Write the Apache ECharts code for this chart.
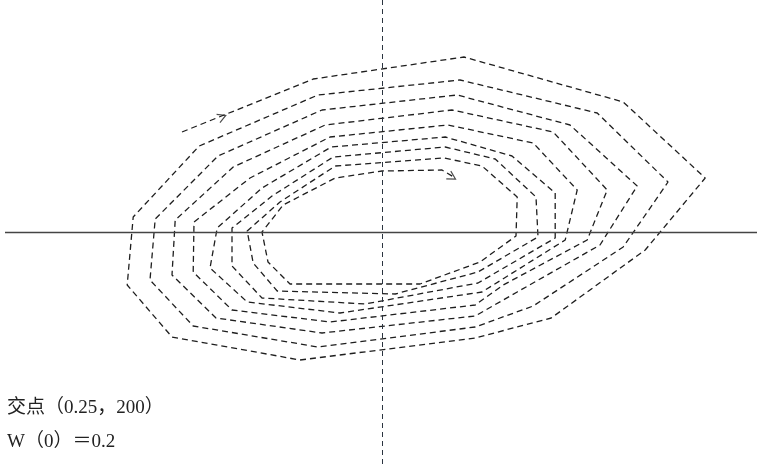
<!DOCTYPE html>
<html>
<head>
<meta charset="utf-8">
<script src="https://cdn.jsdelivr.net/npm/echarts@6/dist/echarts.min.js"></script>
<style>
  html, body { margin: 0; padding: 0; background: #fff; }
  #main { width: 757px; height: 464px; }
</style>
</head>
<body>
<div id="main"></div>
<script>
// 交点
const crossX = 0.25
const crossY = 200

// 轨迹（从 W(0)=0.2 开始，顺时针向内）
const spiralX = [
  0.2,
  0.2328, 0.2705, 0.3103, 0.3308, 0.3158, 0.2923, 0.2733, 0.2295, 0.1975, 0.1863, 0.1878, 0.2043,
  0.234, 0.2695, 0.3038, 0.3215, 0.3103, 0.2878, 0.2733, 0.234, 0.2028, 0.192, 0.1933, 0.209,
  0.235, 0.2688, 0.297, 0.3138, 0.3045, 0.2838, 0.2733, 0.235, 0.2085, 0.1975, 0.1983, 0.2128,
  0.2358, 0.2675, 0.2928, 0.3063, 0.3013, 0.2803, 0.2733, 0.237, 0.2125, 0.2028, 0.203, 0.217,
  0.237, 0.2665, 0.2878, 0.2988, 0.2958, 0.275, 0.2395, 0.2163, 0.207, 0.2088, 0.22,
  0.2373, 0.2658, 0.2825, 0.2933, 0.2933, 0.274, 0.2458, 0.22, 0.2125, 0.2125, 0.2225,
  0.2378, 0.2658, 0.2783, 0.2885, 0.289, 0.274, 0.2533, 0.2238, 0.2178, 0.2163, 0.2245,
  0.2383, 0.2655, 0.275, 0.2838, 0.2835, 0.2745, 0.2595, 0.227, 0.2215, 0.22, 0.2253,
  0.2383, 0.25, 0.265, 0.2683
]
const spiralY = [
  250,
  276.5, 287.5, 265, 227, 191, 157, 147, 136, 147.5, 173.5, 207.5, 243,
  268.5, 276, 259.5, 225, 192.5, 163, 152.5, 142.5, 153, 176, 206.5, 238,
  261, 268.5, 253.5, 223, 193.5, 170, 158, 149.5, 157, 178.5, 206, 232.5,
  253.5, 261, 250, 221, 196, 173.5, 163.5, 155, 161, 180, 205, 227,
  247.5, 253.5, 244.5, 221, 196, 170, 159.5, 165, 182, 202, 222,
  242.5, 247.5, 238, 219.5, 197, 174.5, 164, 167, 183, 202, 218,
  237.5, 242.5, 236.5, 217.5, 197.5, 180, 169, 170.5, 184.5, 200.5, 215,
  233, 237, 233, 217.5, 198, 185, 174, 174, 185, 200, 213.5,
  227, 230.5, 231, 227
]

// 方向箭头
const arrowX = [0.21, 0.2675]
const arrowY = [257.5, 227.5]

const labels = ['交点（0.25，200）', 'W（0）＝0.2']

const chart = echarts.init(document.getElementById('main'))

const option = {
  animation: false,
  backgroundColor: '#fff',
  grid: { left: 5, right: 0, top: 0, bottom: 0 },
  xAxis: {
    type: 'value',
    min: 0.15575,
    max: 0.34375,
    show: false
  },
  yAxis: {
    type: 'value',
    min: 84,
    max: 316,
    show: false
  },
  series: [
    {
      type: 'line',
      data: spiralX.map((x, i) => [x, spiralY[i]]),
      showSymbol: false,
      lineStyle: { color: '#1e1e1e', width: 1.3, type: [6, 4] },
      markLine: {
        silent: true,
        symbol: 'none',
        label: { show: false },
        data: [
          { yAxis: crossY, lineStyle: { color: '#444', width: 1.3, type: 'solid' } },
          { xAxis: crossX, lineStyle: { color: '#2b3440', width: 1, type: [5, 4] } }
        ]
      },
      z: 3
    },
    {
      type: 'scatter',
      data: arrowX.map((x, i) => ({
        value: [x, arrowY[i]],
        symbolRotate: i === 0 ? 22 : -30
      })),
      symbol: 'path://M0,0L10,5L0,10',
      symbolSize: [8, 9],
      itemStyle: { color: 'transparent', borderColor: '#1e1e1e', borderWidth: 1.2 },
      z: 4
    }
  ],
  graphic: labels.map((t, i) => ({
    type: 'text',
    left: 7,
    top: 399 + i * 34,
    style: {
      text: t,
      fill: '#222',
      font: '19px "Liberation Serif", "Noto Sans CJK SC"'
    }
  }))
}

chart.setOption(option)
</script>
</body>
</html>
